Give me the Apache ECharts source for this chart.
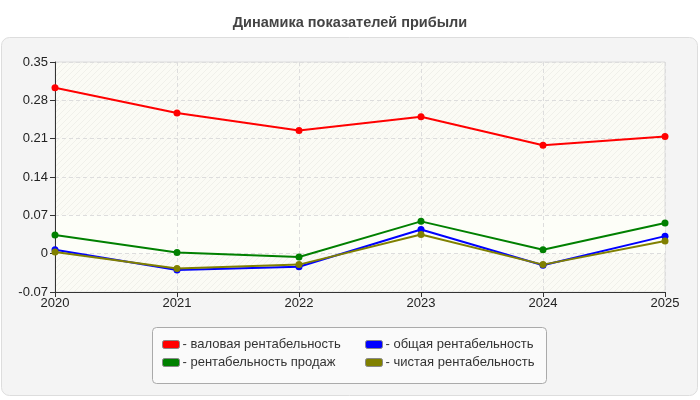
<!DOCTYPE html>
<html>
<head>
<meta charset="utf-8">
<script src="https://cdn.jsdelivr.net/npm/echarts@6/dist/echarts.min.js"></script>
<style>
  html, body { margin: 0; padding: 0; background: #fff; }
  #chart { width: 700px; height: 400px; }
</style>
</head>
<body>
<div id="chart"></div>
<script>
var years = ['2020', '2021', '2022', '2023', '2024', '2025'];
var grossMargin = [0.303, 0.257, 0.225, 0.250, 0.198, 0.214];
var salesMargin = [0.034, 0.002, -0.006, 0.059, 0.007, 0.056];
var totalMargin = [0.007, -0.030, -0.024, 0.044, -0.021, 0.032];
var netMargin = [0.003, -0.027, -0.020, 0.035, -0.020, 0.023];

var names = ['валовая рентабельность', 'общая рентабельность', 'рентабельность продаж', 'чистая рентабельность'];

// фон с диагональной штриховкой
function hatch() {
  var c = document.createElement('canvas');
  c.width = 6; c.height = 6;
  var ctx = c.getContext('2d');
  ctx.fillStyle = '#fbfbf5';
  ctx.fillRect(0, 0, 6, 6);
  ctx.strokeStyle = '#f0f0ea';
  ctx.lineWidth = 1;
  ctx.beginPath();
  ctx.moveTo(0, 6); ctx.lineTo(6, 0);
  ctx.moveTo(-1, 1); ctx.lineTo(1, -1);
  ctx.moveTo(5, 7); ctx.lineTo(7, 5);
  ctx.stroke();
  return { image: c, repeat: 'repeat' };
}

function line(name, data, color) {
  return {
    name: name,
    type: 'line',
    data: data,
    symbol: 'circle',
    symbolSize: 7,
    lineStyle: { color: color, width: 2 },
    itemStyle: { color: color },
    z: 4
  };
}

var myChart = echarts.init(document.getElementById('chart'));

var series = [
  line(names[0], grossMargin, '#ff0000'),
  line(names[2], salesMargin, '#008000'),
  line(names[1], totalMargin, '#0000ff'),
  line(names[3], netMargin, '#808000'),
  {
    // светлая полоса 0..0.07
    type: 'line', data: [], z: 1, silent: true,
    markArea: {
      silent: true,
      itemStyle: { color: '#fdfef8' },
      data: [[{ yAxis: 0 }, { yAxis: 0.07 }]]
    }
  }
];

var font = 'Liberation Sans, Arial';

var legendCommon = {
  orient: 'vertical',
  top: 338,
  padding: 0,
  itemWidth: 17,
  itemHeight: 8,
  itemGap: 5,
  icon: 'roundRect',
  itemStyle: { borderColor: '#888', borderWidth: 1 },
  textStyle: { fontFamily: font, fontSize: 13, color: '#333', padding: [0, 0, 0, -2] },
  formatter: function(n) { return '- ' + n; },
  selectedMode: false
};

myChart.setOption({
  animation: false,
  title: {
    text: 'Динамика показателей прибыли',
    left: 'center',
    top: 10,
    textStyle: { fontFamily: font, fontSize: 14.5, fontWeight: 'bold', color: '#444' }
  },
  graphic: [
    {
      type: 'rect', z: -10,
      shape: { x: 1.5, y: 37.5, width: 696, height: 358, r: 8 },
      style: { fill: '#f4f4f4', stroke: '#dddddd', lineWidth: 1 }
    },
    {
      type: 'rect', z: -5,
      shape: { x: 152.5, y: 327.5, width: 394, height: 56, r: 4 },
      style: { fill: '#fafafa', stroke: '#aaaaaa', lineWidth: 1 }
    }
  ],
  legend: [
    Object.assign({ left: 162, data: [names[0], names[2]] }, legendCommon),
    Object.assign({ left: 365, data: [names[1], names[3]] }, legendCommon)
  ],
  grid: {
    left: 55, right: 35, top: 62, bottom: 108,
    show: true,
    backgroundColor: hatch(),
    borderColor: '#dddddd',
    borderWidth: 1
  },
  xAxis: {
    type: 'category',
    data: years,
    boundaryGap: false,
    z: 2,
    axisLine: { onZero: false, lineStyle: { color: '#333' } },
    axisTick: { length: 5, lineStyle: { color: '#333' } },
    axisLabel: { fontFamily: font, fontSize: 13, color: '#222', margin: 5 },
    splitLine: { show: true, lineStyle: { color: '#dddddd', type: [4, 3] } }
  },
  yAxis: {
    type: 'value',
    min: -0.07,
    max: 0.35,
    interval: 0.07,
    z: 2,
    axisLine: { show: true, lineStyle: { color: '#333' } },
    axisTick: { show: true, length: 5, lineStyle: { color: '#333' } },
    axisLabel: {
      fontFamily: font, fontSize: 13, color: '#222', margin: 7,
      formatter: function(v) { return String(Math.round(v * 100) / 100); }
    },
    splitLine: { show: true, lineStyle: { color: '#dddddd', type: [4, 3] } }
  },
  series: series
});
</script>
</body>
</html>
